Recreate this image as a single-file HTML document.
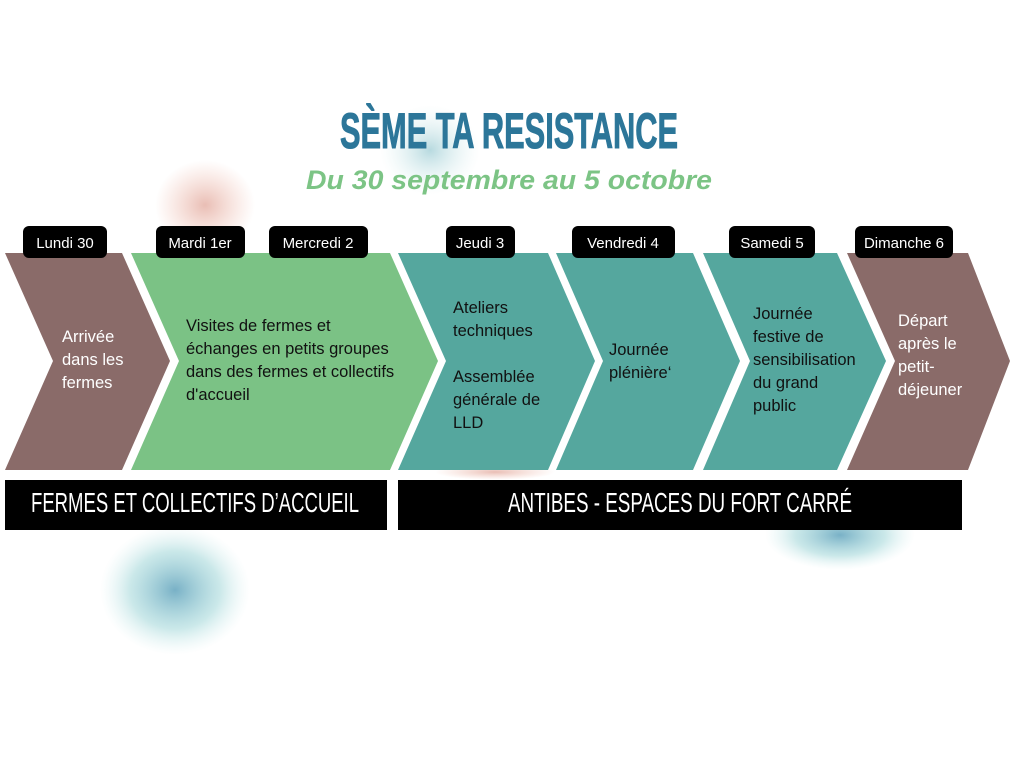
<!DOCTYPE html>
<html><head><meta charset="utf-8"><style>
html,body{margin:0;padding:0;background:#fff;width:1024px;height:768px;overflow:hidden}
svg{display:block}
text{font-family:"Liberation Sans",sans-serif}
</style></head><body>
<svg width="1024" height="768" viewBox="0 0 1024 768" xmlns="http://www.w3.org/2000/svg">
<defs>
<radialGradient id="wc" cx="50%" cy="50%" r="50%"><stop offset="0" stop-color="#3f8fae" stop-opacity=".7"/><stop offset=".6" stop-color="#7cc6c9" stop-opacity=".4"/><stop offset="1" stop-color="#bfe6e6" stop-opacity="0"/></radialGradient>
<radialGradient id="wc2" cx="50%" cy="50%" r="50%"><stop offset="0" stop-color="#6fb4c0" stop-opacity=".5"/><stop offset="1" stop-color="#c8e8e6" stop-opacity="0"/></radialGradient>
<radialGradient id="rd" cx="50%" cy="50%" r="50%"><stop offset="0" stop-color="#c0442a" stop-opacity=".35"/><stop offset="1" stop-color="#e07050" stop-opacity="0"/></radialGradient>
</defs>
<ellipse cx="430" cy="150" rx="50" ry="45" fill="url(#wc2)"/>
<ellipse cx="205" cy="205" rx="50" ry="45" fill="url(#rd)"/>
<ellipse cx="175" cy="590" rx="75" ry="65" fill="url(#wc)"/>
<ellipse cx="840" cy="535" rx="75" ry="35" fill="url(#wc)"/>
<ellipse cx="495" cy="472" rx="60" ry="8" fill="url(#rd)"/>

<text x="340" y="148" font-size="50" font-weight="bold" fill="#2c7699" stroke="#2c7699" stroke-width="1" textLength="338" lengthAdjust="spacingAndGlyphs">SÈME TA RESISTANCE</text>
<text x="306" y="189" font-size="27" font-weight="bold" font-style="italic" fill="#7cc485" textLength="406" lengthAdjust="spacingAndGlyphs">Du 30 septembre au 5 octobre</text>

<polygon points="5,253 122,253 170,361 122,470 5,470 53,361" fill="#8a6b69"/>
<polygon points="131,253 390,253 438,361 390,470 131,470 179,361" fill="#7bc285"/>
<polygon points="398,253 548,253 595,361 548,470 398,470 446,361" fill="#55a79e"/>
<polygon points="556,253 693,253 740,361 693,470 556,470 603,361" fill="#55a79e"/>
<polygon points="703,253 837,253 886,361 837,470 703,470 750,361" fill="#55a79e"/>
<polygon points="847,253 968,253 1010,361 968,470 847,470 895,361" fill="#8a6b69"/>

<g fill="#000">
<rect x="23" y="226" width="84" height="32" rx="6"/>
<rect x="156" y="226" width="89" height="32" rx="6"/>
<rect x="269" y="226" width="99" height="32" rx="6"/>
<rect x="446" y="226" width="69" height="32" rx="6"/>
<rect x="572" y="226" width="103" height="32" rx="6"/>
<rect x="729" y="226" width="86" height="32" rx="6"/>
<rect x="855" y="226" width="98" height="32" rx="6"/>
</g>
<g fill="#fff" font-size="15" text-anchor="middle">
<text x="65" y="248">Lundi 30</text>
<text x="200" y="248">Mardi 1er</text>
<text x="318" y="248">Mercredi 2</text>
<text x="480" y="248">Jeudi 3</text>
<text x="623" y="248">Vendredi 4</text>
<text x="772" y="248">Samedi 5</text>
<text x="904" y="248">Dimanche 6</text>
</g>

<g font-size="16.5">
<g fill="#fff"><text x="62" y="342">Arrivée</text><text x="62" y="365">dans les</text><text x="62" y="388">fermes</text></g>
<g fill="#111"><text x="186" y="331">Visites de fermes et</text><text x="186" y="354">échanges en petits groupes</text><text x="186" y="377">dans des fermes et collectifs</text><text x="186" y="400">d'accueil</text></g>
<g fill="#111"><text x="453" y="313">Ateliers</text><text x="453" y="336">techniques</text><text x="453" y="382">Assemblée</text><text x="453" y="405">générale de</text><text x="453" y="428">LLD</text></g>
<g fill="#111"><text x="609" y="355">Journée</text><text x="609" y="378">plénière‘</text></g>
<g fill="#111"><text x="753" y="319">Journée</text><text x="753" y="342">festive de</text><text x="753" y="365">sensibilisation</text><text x="753" y="388">du grand</text><text x="753" y="411">public</text></g>
<g fill="#fff"><text x="898" y="326">Départ</text><text x="898" y="349">après le</text><text x="898" y="372">petit-</text><text x="898" y="395">déjeuner</text></g>
</g>

<rect x="5" y="480" width="382" height="50" fill="#000"/>
<rect x="398" y="480" width="564" height="50" fill="#000"/>
<text x="31" y="512" font-size="28" fill="#fff" textLength="328" lengthAdjust="spacingAndGlyphs">FERMES ET COLLECTIFS D’ACCUEIL</text>
<text x="508" y="512" font-size="28" fill="#fff" textLength="344" lengthAdjust="spacingAndGlyphs">ANTIBES - ESPACES DU FORT CARRÉ</text>
</svg>
</body></html>
